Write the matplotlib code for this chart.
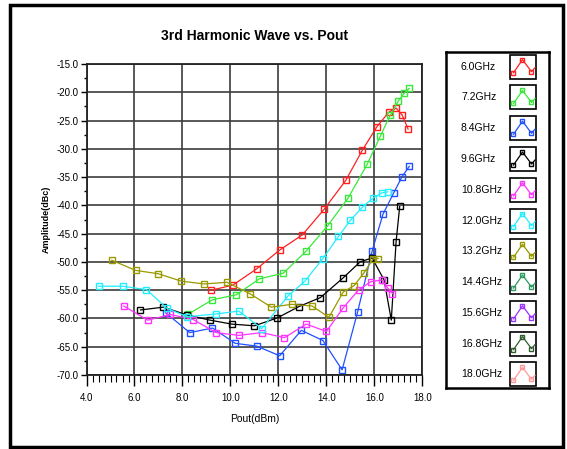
import numpy as np
import matplotlib
matplotlib.use("Agg")
import matplotlib.pyplot as plt
from matplotlib.ticker import MultipleLocator, FormatStrFormatter
from matplotlib.patches import Rectangle

plt.rcParams['font.family'] = ['Liberation Sans Narrow', 'Liberation Sans', 'DejaVu Sans']

# data
labels = ["6.0GHz", "7.2GHz", "8.4GHz", "9.6GHz", "10.8GHz", "12.0GHz",
          "13.2GHz", "14.4GHz", "15.6GHz", "16.8GHz", "18.0GHz"]
colors = ["#ff2020", "#3ae83a", "#2050ff", "#000000", "#ff33ff", "#22eeff",
          "#999900", "#2e9a60", "#9933ff", "#2f5f2f", "#ff9999"]

x_60 = [9.2, 10.1, 11.1, 12.05, 13.0, 13.9, 14.8, 15.5, 16.1, 16.6, 16.9, 17.15, 17.4]
y_60 = [-55.0, -54.1, -51.2, -47.9, -45.2, -40.7, -35.6, -30.2, -26.1, -23.5, -22.8, -24.0, -26.5]

x_72 = [8.25, 9.25, 10.25, 11.2, 12.2, 13.15, 14.05, 14.9, 15.7, 16.25, 16.65, 17.0, 17.25, 17.45]
y_72 = [-59.2, -56.7, -55.8, -53.0, -52.0, -48.1, -43.6, -38.7, -32.7, -27.7, -24.1, -21.5, -20.1, -19.3]

x_84 = [7.3, 8.3, 9.25, 10.2, 11.1, 12.05, 12.95, 13.85, 14.65, 15.3, 15.9, 16.35, 16.8, 17.15, 17.45]
y_84 = [-59.0, -62.5, -61.7, -64.4, -64.9, -66.6, -62.1, -63.9, -69.1, -58.8, -48.1, -41.6, -37.8, -34.9, -33.1]

x_96 = [6.25, 7.2, 8.2, 9.15, 10.05, 11.0, 11.95, 12.85, 13.75, 14.7, 15.4, 15.9, 16.4, 16.7, 16.9, 17.05]
y_96 = [-58.5, -58.0, -59.4, -60.3, -61.0, -61.3, -59.9, -57.9, -56.3, -52.8, -50.0, -49.3, -53.2, -60.3, -46.4, -40.2]

x_108 = [5.55, 6.55, 7.5, 8.45, 9.4, 10.35, 11.3, 12.25, 13.15, 14.0, 14.7, 15.35, 15.85, 16.3, 16.55, 16.75]
y_108 = [-57.8, -60.3, -59.3, -60.2, -62.5, -63.0, -62.5, -63.4, -61.0, -62.3, -58.1, -54.9, -53.5, -53.2, -54.6, -55.6]

x_120 = [4.5, 5.5, 6.5, 7.35, 8.2, 9.4, 10.35, 11.3, 12.4, 13.1, 13.85, 14.5, 15.0, 15.5, 15.95, 16.3, 16.55]
y_120 = [-54.3, -54.3, -54.9, -58.2, -59.7, -59.2, -58.7, -61.8, -56.0, -53.4, -49.4, -45.5, -42.6, -40.3, -38.7, -37.8, -37.6]

x_132 = [5.05, 6.05, 7.0, 7.95, 8.9, 9.85, 10.8, 11.7, 12.55, 13.4, 14.1, 14.7, 15.15, 15.55, 15.95, 16.15]
y_132 = [-49.7, -51.5, -52.1, -53.4, -53.9, -53.6, -55.6, -58.0, -57.5, -57.8, -59.8, -55.3, -54.2, -52.0, -49.4, -49.4]

# the higher frequencies have no visible points, they only show up in the legend
xs = [x_60, x_72, x_84, x_96, x_108, x_120, x_132, [], [], [], []]
ys = [y_60, y_72, y_84, y_96, y_108, y_120, y_132, [], [], [], []]

fig = plt.figure(figsize=(5.67, 4.49), dpi=100)
fig.patch.set_facecolor("white")

# outer frame
fig.patches.append(Rectangle((10 / 567, 1 - 447 / 449), 553 / 567, 442 / 449,
                             transform=fig.transFigure, fill=False,
                             edgecolor="black", linewidth=2.5))

ax = fig.add_axes([86.5 / 567, 1 - 375 / 449, 336 / 567, 311 / 449])
for xv, yv, c in zip(xs, ys, colors):
    ax.plot(xv, yv, color=c, lw=0.9, marker="s", ms=4.4, mfc="none", mec=c, mew=1.0)

ax.set_xlim(4, 18)
ax.set_ylim(-70, -15)
ax.xaxis.set_major_locator(MultipleLocator(2))
ax.xaxis.set_minor_locator(MultipleLocator(0.25))
ax.yaxis.set_major_locator(MultipleLocator(5))
ax.yaxis.set_minor_locator(MultipleLocator(2.5))
ax.xaxis.set_major_formatter(FormatStrFormatter("%.1f"))
ax.yaxis.set_major_formatter(FormatStrFormatter("%.1f"))
ax.grid(True, which="major", color="#3c3c3c", lw=1.2)
ax.set_axisbelow(True)
ax.tick_params(axis="x", which="major", length=8, width=1, labelsize=7, pad=5)
ax.tick_params(axis="x", which="minor", length=5, width=0.8)
ax.tick_params(axis="y", which="major", length=4, width=1, labelsize=7, pad=1.5)
ax.tick_params(axis="y", which="minor", length=2, width=1)
for s in ax.spines.values():
    s.set_color("#222222")
    s.set_linewidth(1.3)

ax.set_xlabel("Pout(dBm)", fontsize=7.5, labelpad=8)
ax.set_ylabel("Amplitude(dBc)", fontsize=6.5, fontweight="bold")
ax.yaxis.set_label_coords(-0.107, 0.5)
fig.text(255 / 567, 1 - 36 / 449, "3rd Harmonic Wave vs. Pout", ha="center", va="center",
         fontsize=10, fontweight="bold")

# legend panel drawn by hand: label plus a little boxed icon
lg = fig.add_axes([446 / 567, 1 - 388 / 449, 103 / 567, 336 / 449])
lg.set_xlim(446, 549)
lg.set_ylim(388, 52)
lg.set_xticks([])
lg.set_yticks([])
for s in lg.spines.values():
    s.set_linewidth(1.8)
    s.set_color("black")

for i, (lab, c) in enumerate(zip(labels, colors)):
    yc = 66.7 + i * 30.77
    lg.text(461, yc, lab, ha="left", va="center", fontsize=7.5)
    lg.add_patch(Rectangle((510.5, yc - 12), 26, 24, fill=False, edgecolor="black", lw=1.2))
    ix = [513.5, 522.5, 531.5, 535]
    iy = [yc + 6, yc - 7, yc + 5, yc + 1]
    lg.plot(ix, iy, color=c, lw=0.9)
    lg.plot(ix[:3], iy[:3], ls="none", marker="s", ms=3.5, mfc="none", mec=c, mew=1.0)

fig.savefig("out.png", dpi=100)
